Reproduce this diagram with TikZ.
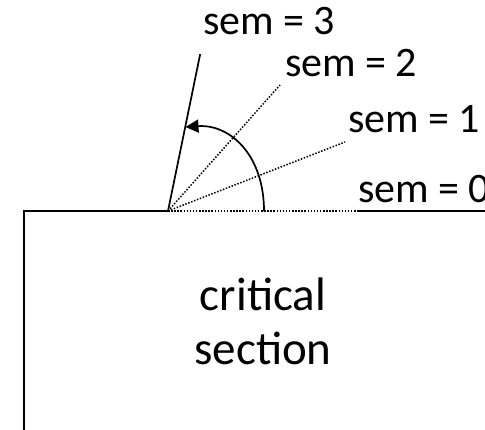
\documentclass[tikz,border=0pt]{standalone}
\usepackage{fontspec}
\setmainfont{Carlito}
\usetikzlibrary{arrows.meta}
\begin{document}
\begin{tikzpicture}[x=1pt,y=-1pt,
  solidline/.style={line width=1.7pt, line cap=rect},
  dotline/.style={line width=1.5pt, dash pattern=on 1.5pt off 1.6pt},
  lbl/.style={anchor=base west, inner sep=0pt, font=\fontsize{42}{50}\selectfont},
  body/.style={align=center, inner sep=0pt, font=\fontsize{47}{54}\selectfont}]
\useasboundingbox (0,0) rectangle (485,430);
\coordinate (O) at (168,211);
\coordinate (TL) at (24,211);
\coordinate (BL) at (24,432);
\coordinate (E3) at (200,55);
\coordinate (E2) at (280,85);
\coordinate (E1) at (345,142);
\coordinate (E0) at (360,211);
\coordinate (R) at (487,211);
\coordinate (A0) at (264,211);
\coordinate (AT) at (185.5,127);
% outline
\draw[solidline] (BL) -- (TL) -- (O);
\draw[solidline] (E0) -- (R);
\draw[solidline] (O) -- (E3);
% dotted rays
\draw[dotline] (O) -- (E0);
\draw[dotline] (O) -- (E1);
\draw[dotline] (O) -- (E2);
% arrow arc
\draw[line width=1.7pt, -{Triangle[length=13pt,width=13pt]}] (A0) .. controls (264,155) and (230,124) .. (AT);
% labels
\node[lbl] (L3) at (203,35) {sem = 3};
\node[lbl] (L2) at (285,77) {sem = 2};
\node[lbl] (L1) at (348,133) {sem = 1};
\node[lbl] (L0) at (358,203) {sem = 0};
\node[body, anchor=base] (CS) at (263,311) {critical};
\node[body, anchor=base] (CS2) at (263,365) {section};
\end{tikzpicture}
\end{document}
